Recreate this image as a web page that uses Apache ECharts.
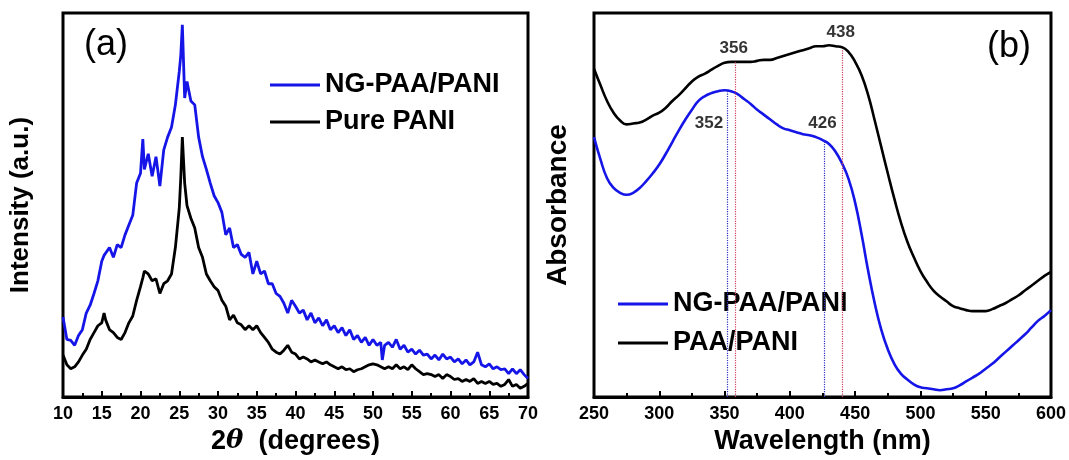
<!DOCTYPE html>
<html>
<head>
<meta charset="utf-8">
<script src="https://cdn.jsdelivr.net/npm/echarts@6/dist/echarts.min.js"></script>
<style>
  html, body { margin: 0; padding: 0; background: #fff; }
  #main { width: 1069px; height: 460px; }
</style>
</head>
<body>
<div id="main"></div>
<script>
// (a) XRD, 2theta in degrees, intensity in a.u.
var theta = [10, 10.5, 11, 11.5, 12, 12.5, 13, 13.5, 14, 14.5,
    15, 15.3, 15.5, 16, 16.5, 17, 17.5, 18, 18.5, 19,
    19.5, 20, 20.3, 20.5, 21, 21.5, 22, 22.5, 23, 23.5,
    24, 24.5, 25, 25.2, 25.4, 25.7, 26, 26.5, 27, 27.5,
    28, 28.5, 29, 29.5, 30, 30.5, 31, 31.5, 32, 32.5,
    33, 33.5, 34, 34.5, 35, 35.5, 36, 36.5, 37, 37.5,
    38, 38.5, 39, 39.5, 40, 40.5, 41, 41.5, 42, 42.5,
    43, 43.5, 44, 44.5, 45, 45.5, 46, 46.5, 47, 47.5,
    48, 48.5, 49, 49.5, 50, 50.5, 51, 51.2, 51.5, 52,
    52.5, 53, 53.5, 54, 54.5, 55, 55.5, 56, 56.5, 57,
    57.5, 58, 58.5, 59, 59.5, 60, 60.5, 61, 61.5, 62,
    62.5, 63, 63.5, 64, 64.5, 65, 65.5, 66, 66.5, 67,
    67.5, 68, 68.5, 69, 69.5, 70];
var ngXrd = [82, 59, 58, 53, 63, 69, 86, 94, 106, 119,
    139, 145, 146, 153, 143, 156, 153, 166, 176, 186,
    219, 229, 264, 233, 249, 226, 246, 216, 253, 266,
    276, 299, 333, 350, 381, 306, 323, 303, 299, 266,
    246, 233, 219, 206, 199, 189, 166, 173, 153, 156,
    146, 143, 148, 126, 139, 126, 129, 116, 116, 106,
    103, 96, 86, 99, 93, 86, 89, 79, 86, 76,
    81, 73, 79, 69, 73, 66, 71, 63, 69, 59,
    63, 56, 61, 53, 59, 53, 56, 38, 53, 56,
    51, 59, 49, 53, 46, 49, 44, 48, 43, 44,
    39, 43, 38, 44, 39, 41, 36, 39, 34, 38,
    33, 36, 46, 33, 31, 34, 29, 31, 28, 29,
    24, 29, 24, 28, 23, 19];
var pureXrd = [43, 33, 29, 31, 36, 43, 49, 59, 66, 73,
    76, 86, 79, 69, 66, 61, 59, 66, 76, 83,
    99, 113, 122, 129, 126, 119, 121, 106, 116, 119,
    126, 153, 193, 225, 266, 219, 196, 183, 173, 153,
    143, 126, 119, 113, 109, 99, 93, 79, 84, 76,
    74, 69, 73, 69, 73, 66, 61, 56, 49, 46,
    44, 48, 53, 46, 44, 39, 41, 39, 36, 38,
    36, 34, 36, 33, 31, 29, 31, 28, 29, 26,
    28, 29, 31, 33, 34, 33, 31, 30, 29, 31,
    29, 33, 29, 31, 28, 33, 29, 26, 23, 24,
    23, 21, 23, 19, 23, 21, 18, 19, 16, 18,
    16, 19, 14, 16, 14, 16, 13, 14, 11, 13,
    18, 11, 13, 9, 11, 14];

// (b) UV-vis, wavelength in nm
var wavelength = [250, 255, 260, 265, 270, 275, 280, 285, 290, 295,
    300, 305, 310, 315, 320, 325, 330, 335, 340, 345,
    350, 355, 360, 365, 370, 375, 380, 385, 390, 395,
    400, 405, 410, 415, 420, 425, 430, 435, 440, 445,
    450, 455, 460, 465, 470, 475, 480, 485, 490, 495,
    500, 505, 510, 515, 520, 525, 530, 535, 540, 545,
    550, 555, 560, 565, 570, 575, 580, 585, 590, 595,
    600];
var ngUv = [266, 243, 224, 214, 209, 207, 209, 214, 221, 229,
    238, 249, 261, 273, 284, 294, 303, 308, 311, 313,
    314, 313, 310, 305, 300, 294, 289, 284, 279, 275,
    273, 271, 269, 268, 266, 263, 259, 251, 239, 223,
    199, 166, 129, 96, 69, 49, 34, 24, 18, 13,
    10, 9, 8, 7, 8, 9, 12, 16, 20, 24,
    29, 34, 40, 46, 52, 58, 64, 71, 78, 83,
    89];
var paaUv = [336, 319, 303, 291, 283, 279, 280, 281, 284, 288,
    291, 296, 303, 309, 316, 323, 328, 331, 335, 339,
    342, 343, 343, 343, 343, 344, 345, 345, 347, 349,
    351, 353, 355, 357, 359, 359, 360, 359, 358, 353,
    343, 329, 309, 283, 256, 229, 203, 179, 159, 143,
    129, 118, 109, 103, 98, 93, 91, 89, 88, 88,
    88, 90, 93, 96, 100, 104, 109, 114, 119, 124,
    128];

// dotted guide lines down from the peaks
var ngPeakNm = [352, 426];
var ngPeakTop = [314, 263];
var paaPeakNm = [358, 440];
var paaPeakTop = [343, 356];

// peak labels
var peakText = ['356', '438', '352', '426'];
var peakTextNm = [357, 439, 338, 425];
var peakTextY = [357, 373, 280, 280];

var blue = '#1515e8';
var font = 'Liberation Sans, Arial, sans-serif';

var chart = echarts.init(document.getElementById('main'));

function pairs(xs, ys) {
    return xs.map(function (x, i) { return [x, ys[i]]; });
}

function guides(nms, tops) {
    return nms.map(function (nm, i) {
        return [{ coord: [nm, 0] }, { coord: [nm, tops[i]] }];
    });
}

function xAxisStyle(idx, min, max, interval, name, gap) {
    return {
        type: 'value', gridIndex: idx, min: min, max: max, interval: interval,
        name: name, nameLocation: 'middle', nameGap: gap,
        nameTextStyle: {
            color: '#000', fontFamily: font, fontWeight: 'bold', fontSize: 27,
            rich: {
                b: { fontFamily: font, fontWeight: 'bold', fontSize: 27, color: '#000' },
                i: { fontFamily: 'DejaVu Serif, serif', fontStyle: 'italic', fontSize: 26, color: '#000' }
            }
        },
        axisLine: { show: true, lineStyle: { color: '#000', width: 3 } },
        axisTick: { show: true, inside: true, length: 6, lineStyle: { color: '#000', width: 2 } },
        minorTick: { show: true, splitNumber: 2, length: 4, lineStyle: { color: '#000', width: 2 } },
        axisLabel: { color: '#000', fontFamily: font, fontWeight: 'bold', fontSize: 18, margin: 8 },
        splitLine: { show: false }
    };
}

function yAxisStyle(idx, name, gap, size) {
    return {
        type: 'value', gridIndex: idx, min: 0, max: 393,
        name: name, nameLocation: 'middle', nameGap: gap,
        nameTextStyle: { color: '#000', fontFamily: font, fontWeight: 'bold', fontSize: size },
        axisLine: { show: false },
        axisTick: { show: false },
        axisLabel: { show: false },
        splitLine: { show: false }
    };
}

var legendText = { color: '#000', fontFamily: font, fontWeight: 'bold', fontSize: 27, lineHeight: 28 };

var option = {
    animation: false,
    backgroundColor: '#fff',
    grid: [
        { left: 63, top: 13, width: 465, height: 393, show: true, borderColor: '#000', borderWidth: 3 },
        { left: 594, top: 13, width: 458, height: 393, show: true, borderColor: '#000', borderWidth: 3 }
    ],
    xAxis: [
        xAxisStyle(0, 10, 70, 5, '{b|2}{i|θ}{b|  (degrees)}', 27),
        xAxisStyle(1, 250, 600, 50, 'Wavelength (nm)', 27)
    ],
    yAxis: [
        yAxisStyle(0, 'Intensity (a.u.)', 29, 26),
        yAxisStyle(1, 'Absorbance', 22, 28)
    ],
    legend: [
        {
            data: ['NG-PAA/PANI', 'Pure PANI'],
            orient: 'vertical', left: 265, top: 66, icon: 'rect', itemWidth: 50, itemHeight: 3, itemGap: 9,
            selectedMode: false, textStyle: legendText
        },
        {
            data: ['NG-PAA/PANI', 'PAA/PANI'],
            orient: 'vertical', left: 613, top: 285, icon: 'rect', itemWidth: 50, itemHeight: 3, itemGap: 11,
            selectedMode: false, textStyle: legendText
        }
    ],
    graphic: [
        { type: 'text', left: 84, top: 27, style: { text: '(a)', font: '36px ' + font, fill: '#000' } },
        { type: 'text', left: 987, top: 29, style: { text: '(b)', font: '36px ' + font, fill: '#000' } }
    ],
    series: [
        {
            name: 'Pure PANI', type: 'line', xAxisIndex: 0, yAxisIndex: 0,
            data: pairs(theta, pureXrd), symbol: 'none',
            lineStyle: { color: '#000', width: 2.8 }, itemStyle: { color: '#000' }
        },
        {
            name: 'NG-PAA/PANI', type: 'line', xAxisIndex: 0, yAxisIndex: 0,
            data: pairs(theta, ngXrd), symbol: 'none',
            lineStyle: { color: blue, width: 2.8 }, itemStyle: { color: blue }
        },
        {
            name: 'PAA/PANI', type: 'line', xAxisIndex: 1, yAxisIndex: 1,
            data: pairs(wavelength, paaUv), symbol: 'none', smooth: true,
            lineStyle: { color: '#000', width: 2.6 }, itemStyle: { color: '#000' },
            markLine: {
                silent: true, symbol: 'none', label: { show: false },
                lineStyle: { color: '#d04060', type: 'dotted', width: 1.2 },
                data: guides(paaPeakNm, paaPeakTop)
            }
        },
        {
            name: 'NG-PAA/PANI', type: 'line', xAxisIndex: 1, yAxisIndex: 1,
            data: pairs(wavelength, ngUv), symbol: 'none', smooth: true,
            lineStyle: { color: blue, width: 2.6 }, itemStyle: { color: blue },
            markLine: {
                silent: true, symbol: 'none', label: { show: false },
                lineStyle: { color: '#3030c0', type: 'dotted', width: 1.2 },
                data: guides(ngPeakNm, ngPeakTop)
            }
        },
        {
            name: 'peaks', type: 'scatter', xAxisIndex: 1, yAxisIndex: 1,
            symbolSize: 1, itemStyle: { color: 'rgba(0,0,0,0)' },
            data: peakText.map(function (t, i) { return [peakTextNm[i], peakTextY[i], t]; }),
            label: {
                show: true, position: 'inside', color: '#000',
                fontFamily: font, fontWeight: 'bold', fontSize: 17,
                formatter: function (p) { return p.value[2]; }
            }
        }
    ]
};

chart.setOption(option);
</script>
</body>
</html>
